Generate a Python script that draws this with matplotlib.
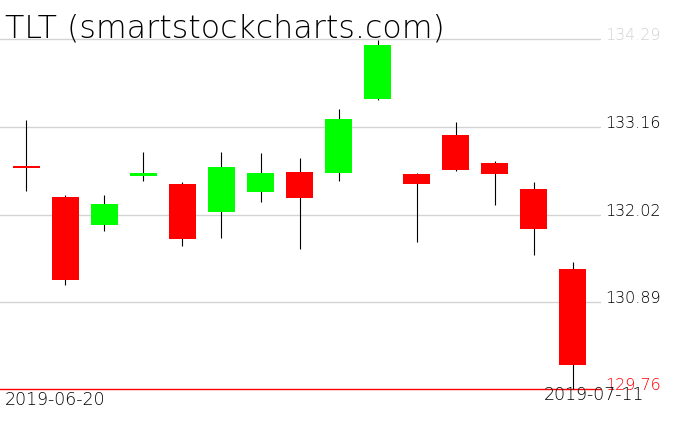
import matplotlib.pyplot as plt

# Data (daily OHLC, TLT)
dates = ['2019-06-20', '2019-06-21', '2019-06-24', '2019-06-25', '2019-06-26',
         '2019-06-27', '2019-06-28', '2019-07-01', '2019-07-02', '2019-07-03',
         '2019-07-05', '2019-07-08', '2019-07-09', '2019-07-10', '2019-07-11']
opens = [132.65, 132.25, 131.89, 132.52, 132.42, 132.05, 132.32, 132.57,
         132.56, 133.52, 132.55, 133.05, 132.69, 132.35, 131.32]
highs = [133.25, 132.28, 132.28, 132.83, 132.44, 132.83, 132.82, 132.75,
         133.39, 134.28, 132.56, 133.22, 132.72, 132.44, 131.41]
lows = [132.33, 131.11, 131.81, 132.46, 131.62, 131.72, 132.18, 131.58,
        132.46, 133.51, 131.67, 132.59, 132.15, 131.50, 129.76]
closes = [132.63, 131.17, 132.16, 132.56, 131.71, 132.64, 132.56, 132.24,
          133.26, 134.22, 132.42, 132.60, 132.55, 131.83, 130.07]

price_levels = [134.29, 133.16, 132.02, 130.89, 129.76]
level_colors = ['#d3d3d3', 'black', 'black', 'black', 'red']

title = 'TLT (smartstockcharts.com)'

fig = plt.figure(figsize=(6.76, 4.31), dpi=100)
ax = fig.add_axes([0, 0, 601 / 676, 1])
ax.set_xlim(-0.679, 14.73)
ax.set_ylim(129.233, 134.812)
ax.axis('off')

# grid lines
for lvl in price_levels[:-1]:
    ax.axhline(lvl, color='#d3d3d3', lw=1, zorder=0)
ax.axhline(price_levels[-1], color='red', lw=1, zorder=0)

x = list(range(len(dates)))
ax.vlines(x, lows, highs, color='black', lw=0.8, zorder=1)
bottoms = [min(o, c) for o, c in zip(opens, closes)]
heights = [abs(c - o) for o, c in zip(opens, closes)]
colors = ['#00ff00' if c >= o else '#ff0000' for o, c in zip(opens, closes)]
ax.bar(x, heights, bottom=bottoms, width=0.69, color=colors, zorder=2)

# price labels on the right
for lvl, col in zip(price_levels, level_colors):
    ax.annotate(f'{lvl:.2f}', xy=(1, lvl), xycoords=('axes fraction', 'data'),
                xytext=(4, 0), textcoords='offset pixels', va='baseline',
                ha='left', fontsize=11.5, color=col, fontweight='light')

fig.text(5 / 676, 1 - 37 / 431, title, fontsize=22.8, va='baseline', ha='left',
         fontweight='light', color='black')
fig.text(5 / 676, 1 - 405 / 431, dates[0], fontsize=12.5, va='baseline',
         ha='left', fontweight='light')
fig.text(644 / 676, 1 - 400 / 431, dates[-1], fontsize=12.5, va='baseline',
         ha='right', fontweight='light')

fig.savefig('out.png', dpi=100)
